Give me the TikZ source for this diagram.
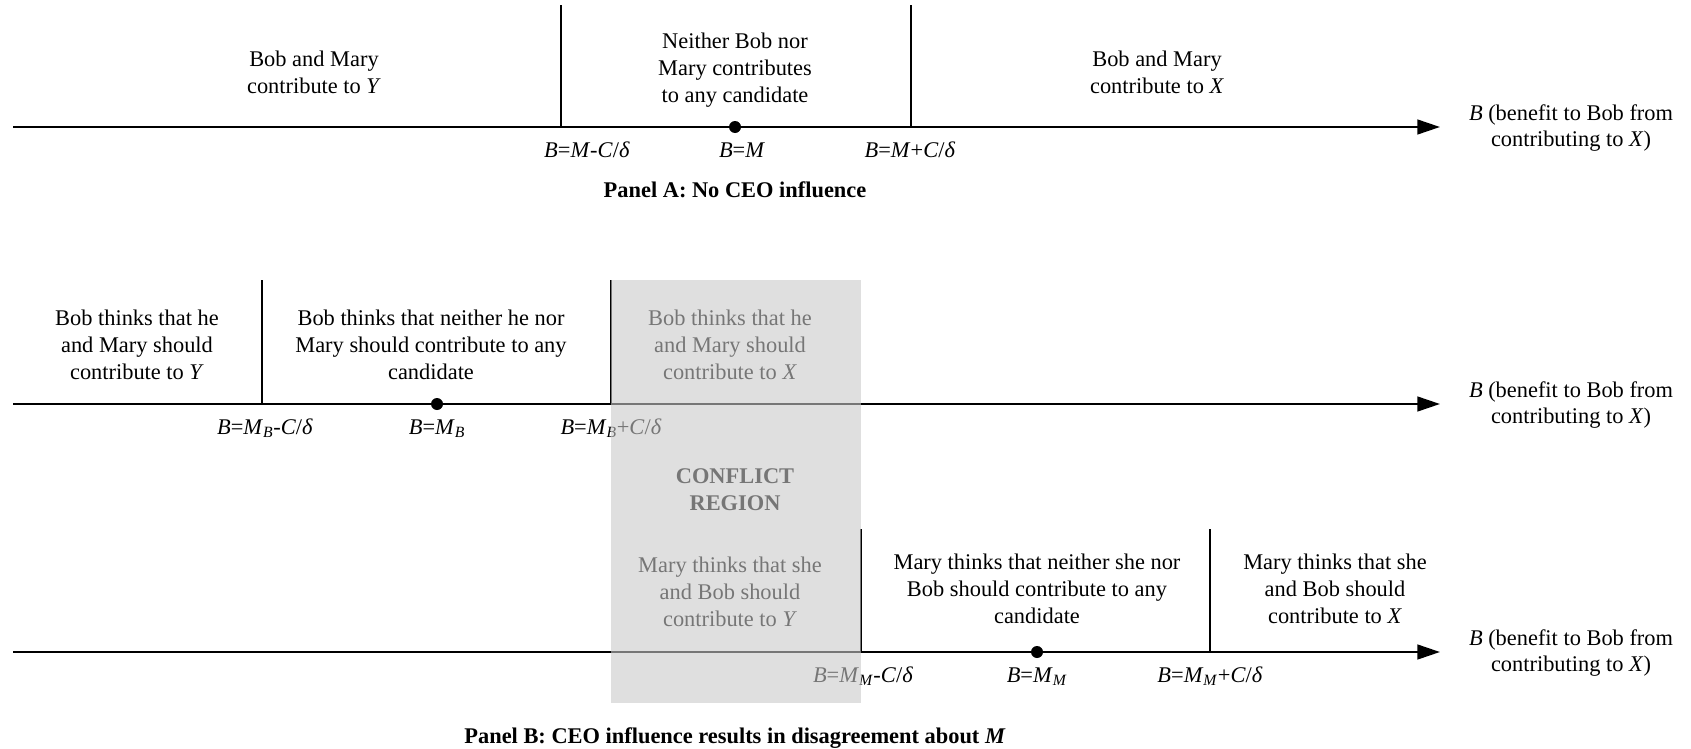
\documentclass[tikz,border=0pt]{standalone}
\usepackage{fontspec}
\setmainfont{Liberation Serif}
\usetikzlibrary{arrows.meta}
\newcommand{\txtsize}{\fontsize{16.8}{20.2}\selectfont}
\tikzset{axis/.style={line width=1.8pt, -{Triangle[length=17pt,width=11pt]}},
  cut/.style={line width=1pt},
  dot/.style={circle, fill, inner sep=0pt, minimum size=9pt},
  lbl/.style={align=center, inner sep=0pt, font=\txtsize},
  tick/.style={anchor=base, inner sep=0pt, font=\txtsize},
  paneltitle/.style={inner sep=0pt, font=\txtsize\bfseries},
  conflict/.style={fill=black!21, opacity=.59}}

\begin{document}
\begin{tikzpicture}[x=0.75pt, y=-0.75pt]
    \useasboundingbox (0,0) rectangle (1691,749);
    % Panel A
    \coordinate (aA0) at (13,127);
    \coordinate (aA1) at (1440,127);
    \coordinate (cA1) at (561,127);
    \coordinate (cA2) at (911,127);
    \draw[axis] (aA0) -- (aA1);
    \draw[cut] (cA1) -- ++(0,-122);
    \draw[cut] (cA2) -- ++(0,-122);
    \node[dot] (mA) at (735,127) {};
    \node[lbl] (lA1) at (314,72) {Bob and Mary\\contribute to \textit{Y}};
    \node[lbl] (lA2) at (735,70) {Neither Bob nor\\Mary contributes\\to any candidate};
    \node[lbl] (lA3) at (1157,72) {Bob and Mary\\contribute to \textit{X}};
    \node[lbl] (bA) at (1571,128) {\textit{B} (benefit to Bob from\\contributing to \textit{X})};
    \node[tick] (tA1) at (587,157) {\textit{B}=\textit{M}-\textit{C}/\textit{δ}};
    \node[tick] (tA2) at (742,157) {\textit{B}=\textit{M}};
    \node[tick] (tA3) at (910,157) {\textit{B}=\textit{M}+\textit{C}/\textit{δ}};
    \node[paneltitle] (pA) at (735,190) {Panel A: No CEO influence};
    % Panel B, Bob
    \coordinate (aB0) at (13,404);
    \coordinate (aB1) at (1440,404);
    \coordinate (cB1) at (262,404);
    \coordinate (cB2) at (611,404);
    \draw[axis] (aB0) -- (aB1);
    \draw[cut] (cB1) -- ++(0,-124);
    \draw[cut] (cB2) -- ++(0,-124);
    \node[dot] (mB) at (437,404) {};
    \node[lbl] (lB1) at (137,345) {Bob thinks that he\\and Mary should\\contribute to \textit{Y}};
    \node[lbl] (lB2) at (431,345) {Bob thinks that neither he nor\\Mary should contribute to any\\candidate};
    \node[lbl] (lB3) at (730,345) {Bob thinks that he\\and Mary should\\contribute to \textit{X}};
    \node[lbl] (bB) at (1571,405) {\textit{B} (benefit to Bob from\\contributing to \textit{X})};
    \node[tick] (tB1) at (265,434) {\textit{B}=\textit{M}\textsubscript{\textit{B}}-\textit{C}/\textit{δ}};
    \node[tick] (tB2) at (437,434) {\textit{B}=\textit{M}\textsubscript{\textit{B}}};
    \node[tick] (tB3) at (611,434) {\textit{B}=\textit{M}\textsubscript{\textit{B}}+\textit{C}/\textit{δ}};
    % Panel B, Mary
    \coordinate (aM0) at (13,652);
    \coordinate (aM1) at (1440,652);
    \coordinate (cM1) at (861,652);
    \coordinate (cM2) at (1210,652);
    \draw[axis] (aM0) -- (aM1);
    \draw[cut] (cM1) -- ++(0,-123);
    \draw[cut] (cM2) -- ++(0,-123);
    \node[dot] (mM) at (1037,652) {};
    \node[lbl] (lM1) at (730,592) {Mary thinks that she\\and Bob should\\contribute to \textit{Y}};
    \node[lbl] (lM2) at (1037,589) {Mary thinks that neither she nor\\Bob should contribute to any\\candidate};
    \node[lbl] (lM3) at (1335,589) {Mary thinks that she\\and Bob should\\contribute to \textit{X}};
    \node[lbl] (bM) at (1571,653) {\textit{B} (benefit to Bob from\\contributing to \textit{X})};
    \node[tick] (tM1) at (863,682) {\textit{B}=\textit{M}\textsubscript{\textit{M}}-\textit{C}/\textit{δ}};
    \node[tick] (tM2) at (1037,682) {\textit{B}=\textit{M}\textsubscript{\textit{M}}};
    \node[tick] (tM3) at (1210,682) {\textit{B}=\textit{M}\textsubscript{\textit{M}}+\textit{C}/\textit{δ}};
    \node[lbl, font=\txtsize\bfseries] (cr) at (735,490) {CONFLICT\\REGION};
    \node[paneltitle] (pB) at (735,738) {Panel B: CEO influence results in disagreement about \textit{M}};
    % conflict region laid over the axes
    \fill[conflict] (cB2 |- 0,280) rectangle (cM1 |- 0,703);
\end{tikzpicture}
\end{document}
